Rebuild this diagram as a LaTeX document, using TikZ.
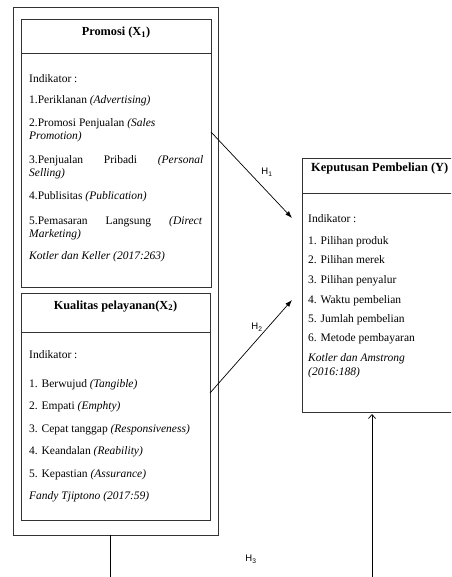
\documentclass[tikz,border=0pt]{standalone}
\usepackage{fontspec}
\setmainfont{Liberation Serif}
\newfontfamily\hfont{Liberation Sans}
\usetikzlibrary{arrows.meta}
\tikzset{
  frame/.style={draw=black!80, line width=0.8pt, inner sep=0pt, anchor=north west},
  hline/.style={draw=black!80, line width=0.8pt},
  txt/.style={anchor=base west, inner sep=0pt, font=\fontsize{11.5}{13}\selectfont},
  ttl/.style={anchor=base, inner sep=0pt, font=\fontsize{12.3}{14}\selectfont\bfseries},
  ttlw/.style={anchor=base west, inner sep=0pt, font=\fontsize{12.4}{14}\selectfont\bfseries},
  hlab/.style={inner sep=0pt, font=\hfont\fontsize{9.5}{11}\selectfont},
  conn/.style={line width=0.7pt, -{Latex[length=7pt,width=5pt]}},
  plain/.style={line width=0.7pt},
  openarr/.style={line width=0.7pt, -{Straight Barb[length=4pt,width=7pt]}},
}
\begin{document}
\begin{tikzpicture}[x=1pt,y=-1pt]
\useasboundingbox (0,0) rectangle (451,577);
\clip (0,0) rectangle (451,577);
% boxes
\node[frame, minimum width=205pt, minimum height=528pt] (outer) at (13,7) {};
\node[frame, minimum width=190pt, minimum height=268pt] (promosi) at (21,19) {};
\node[frame, minimum width=189pt, minimum height=227pt] (kualitas) at (21,293) {};
\node[frame, draw=none, minimum width=200pt, minimum height=254pt] (keputusan) at (302,158) {};
\draw[hline] (keputusan.north east) -- (keputusan.north west) -- (keputusan.south west) -- (keputusan.south east);
\coordinate (ph) at (0,53);
\coordinate (kh) at (0,332);
\coordinate (yh) at (0,193);
\draw[hline] (promosi.west |- ph) -- (promosi.east |- ph);
\draw[hline] (kualitas.west |- kh) -- (kualitas.east |- kh);
\draw[hline] (keputusan.west |- yh) -- (keputusan.east |- yh);

% Promosi text
\node[ttl] (pt) at (116,36) {Promosi (X\textsubscript{1})};
\node[txt] (p0) at (29,83) {Indikator :};
\node[txt] (p1) at (29,104) {1.Periklanan \textit{(Advertising)}};
\node[txt] (p2a) at (29,127) {2.Promosi Penjualan \textit{(Sales}};
\node[txt] (p2b) at (29,140) {\textit{Promotion)}};
\node[txt] (p3a) at (29,164) {\hbox to 174pt{3.Penjualan\hfill Pribadi\hfill \textit{(Personal}}};
\node[txt] (p3b) at (29,177) {\textit{Selling)}};
\node[txt] (p4) at (29,200) {4.Publisitas \textit{(Publication)}};
\node[txt] (p5a) at (29,224) {\hbox to 173pt{5.Pemasaran\hfill Langsung\hfill \textit{(Direct}}};
\node[txt] (p5b) at (29,237) {\textit{Marketing)}};
\node[txt] (p6) at (29,259) {\textit{Kotler dan Keller (2017:263)}};

% Kualitas text
\node[ttl] (kt) at (115.5,309) {Kualitas pelayanan(X\textsubscript{2})};
\node[txt] (k0) at (29,358) {Indikator :};
\node[txt] (k1) at (29,387) {1. Berwujud \textit{(Tangible)}};
\node[txt] (k2) at (29,409) {2. Empati \textit{(Emphty)}};
\node[txt] (k3) at (29,432) {3. Cepat tanggap \textit{(Responsiveness)}};
\node[txt] (k4) at (29,454) {4. Keandalan \textit{(Reability)}};
\node[txt] (k5) at (29,477) {5. Kepastian \textit{(Assurance)}};
\node[txt] (k6) at (29,499) {\textit{Fandy Tjiptono (2017:59)}};

% Keputusan text
\node[ttlw] (yt) at (311,172) {Keputusan Pembelian (Y)};
\node[txt] (y0) at (308,222) {Indikator :};
\node[txt] (y1) at (308,244) {1. Pilihan produk};
\node[txt] (y2) at (308,263) {2. Pilihan merek};
\node[txt] (y3) at (308,283) {3. Pilihan penyalur};
\node[txt] (y4) at (308,303) {4. Waktu pembelian};
\node[txt] (y5) at (308,322) {5. Jumlah pembelian};
\node[txt] (y6) at (308,341) {6. Metode pembayaran};
\node[txt] (y7) at (308,361) {\textit{Kotler dan Amstrong}};
\node[txt] (y8) at (308,375) {\textit{(2016:188)}};

% connectors
\coordinate (h1s) at (211,132);
\coordinate (h1e) at (292,218);
\coordinate (h2s) at (210,393);
\coordinate (h2e) at (292,300);
\coordinate (b1s) at (110,535);
\coordinate (b1e) at (110,577);
\coordinate (b2s) at (372,577);
\coordinate (b2e) at (372,414);
\draw[conn] (h1s) -- (h1e);
\draw[conn] (h2s) -- (h2e);
\draw[plain] (b1s) -- (b1e);
\draw[openarr] (b2s) -- (b2e);

\node[hlab] (H1) at (267,172) {H\textsubscript{1}};
\node[hlab] (H2) at (257,327) {H\textsubscript{2}};
\node[hlab] (H3) at (251,559) {H\textsubscript{3}};
\end{tikzpicture}
\end{document}
